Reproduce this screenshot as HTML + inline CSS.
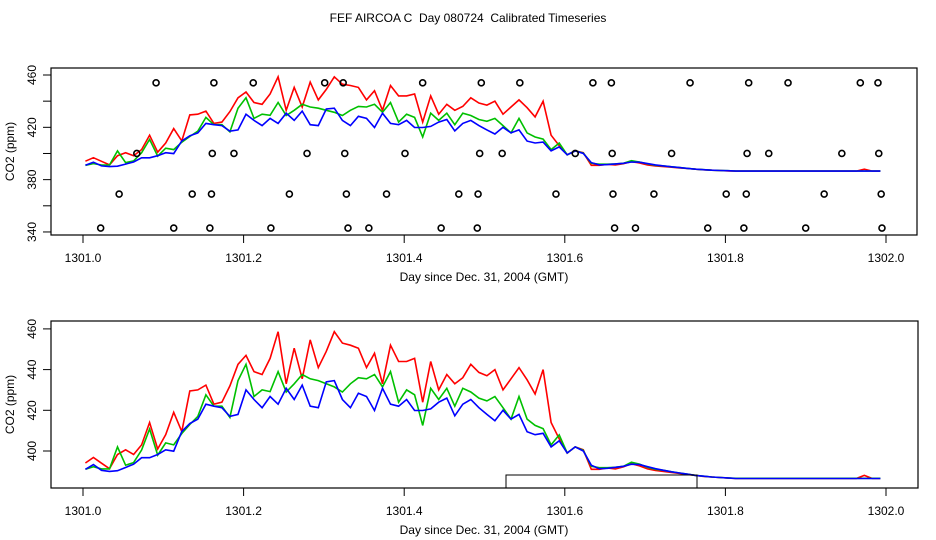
<!DOCTYPE html>
<html><head><meta charset="utf-8"><style>
html,body{margin:0;padding:0;background:#fff;}
svg{display:block;font-family:"Liberation Sans",Arial,sans-serif;}
</style></head><body>
<svg id="chart" width="936" height="540" viewBox="0 0 936 540">
<text x="468" y="22" text-anchor="middle" font-size="12" style="white-space:pre">FEF AIRCOA C  Day 080724  Calibrated Timeseries</text>
<g id="topPanel"></g>
<g id="botPanel"></g>
</svg>
<script>
const red = [394.1,396.8,394,391.3,398.3,400.6,398.3,403,414,401,408,419,409.6,429.5,430,432.4,423,424,432,442.6,447,439,437.6,445.5,458.6,433,450.5,435.5,454.6,441,449,458.6,453,452,450.5,441,448,433,452,444,444,445.5,424,444,430,437.6,433,436,442.6,438.6,437,440,430,435.5,441,435,428,440,414,406,399,402,400.6,391,391,391.7,391.2,392.2,393.8,392.7,391.2,390.4,390,389.5,389,388.5,388,387.5,387.2,387,386.7,386.5,386.5,386.5,386.5,386.5,386.5,386.5,386.5,386.5,386.5,386.5,386.5,386.5,386.5,386.5,386.5,388,386.5,386.5];
const green = [391,392.3,391.2,391.2,402,393,394.3,400.5,410.8,398,404,403,408.6,413,417,427.6,422,422,416.5,434.6,442.6,426.8,430,429.2,439,429,433,437.6,435.5,434.6,433,431.5,429,433,436,435.5,437.6,431.5,439,424,430,427.6,412.6,430.8,425.3,430.8,422,430.8,429,426,424.6,426.8,421.3,415.7,426.8,415.7,412.6,411,403,407.9,399,402,400.3,392.5,391.8,391.8,392,392.5,394.5,393.5,392,391,390.5,389.8,389.2,388.6,388,387.6,387.2,387,386.8,386.6,386.6,386.6,386.6,386.6,386.6,386.6,386.6,386.6,386.6,386.6,386.6,386.6,386.6,386.6,386.6,386.6,386.6,386.6];
const blue = [391,393.3,390.5,390,390.3,391.9,393.5,396.7,396.7,398.3,400.6,399.9,409.6,413.5,415.7,423,422,421.3,417,418,430,425.3,421.3,426.8,423,430.8,425.3,432.4,422,421.3,434,434.6,425.3,421.3,428.4,426.8,419.9,430.8,423,422,425.3,419.9,419.9,420.7,424,426,417.3,423,425.3,421.3,418,414.9,420,415.7,418,409.5,408,408.7,402,405,399,402,400,393,391.3,391.5,392,392.5,393.5,393.3,392.3,391.3,390.5,389.8,389.2,388.6,388,387.6,387.2,387,386.8,386.5,386.5,386.5,386.5,386.5,386.5,386.5,386.5,386.5,386.5,386.5,386.5,386.5,386.5,386.5,386.5,386.5,386.5,386.5];
const tStart = 1301.003, tStep = 0.01;
const flagDays454 = [1301.091,1301.163,1301.212,1301.301,1301.324,1301.423,1301.496,1301.544,1301.635,1301.658,1301.756,1301.829,1301.878,1301.968,1301.990];
const flagDays400 = [1301.067,1301.161,1301.188,1301.279,1301.326,1301.401,1301.494,1301.522,1301.613,1301.659,1301.733,1301.827,1301.854,1301.945,1301.991];
const flagDays369 = [1301.045,1301.136,1301.160,1301.257,1301.328,1301.378,1301.468,1301.492,1301.589,1301.660,1301.711,1301.801,1301.826,1301.923,1301.994];
const flagDays343 = [1301.022,1301.113,1301.158,1301.234,1301.330,1301.356,1301.446,1301.491,1301.662,1301.688,1301.778,1301.823,1301.900,1301.995];
const flagVals = [454,400,369,343];
const xTicks = [1301.0,1301.2,1301.4,1301.6,1301.8,1302.0];
const topYTicks = [340,360,380,400,420,440,460];
const topYLabels = [340,380,420,460];
const botYTicks = [400,420,440,460];

const NS='http://www.w3.org/2000/svg';
function mk(tag, attrs, parent){const e=document.createElementNS(NS,tag);for(const k in attrs)e.setAttribute(k,attrs[k]);parent.appendChild(e);return e;}
const xs = d => 83 + (d-1301)*803;
const yTop = v => 75 + (460-v)*1.308;
const yBot = v => 451 - (v-400)*2.035;

function panel(g, box, ys, yticks, ylabels){
  const r = mk('rect',{x:box[0],y:box[1],width:box[2]-box[0],height:box[3]-box[1],fill:'none',stroke:'#000','stroke-width':1.2},g);
  
  
  xTicks.forEach(t=>{
    const l=mk('line',{x1:xs(t),x2:xs(t),y1:box[3],y2:box[3]+8,stroke:'#000'},g);
    
    
    const tx=mk('text',{x:xs(t),y:box[3]+27,'text-anchor':'middle','font-size':12},g);
    
    
    tx.textContent=t.toFixed(1);
  });
  yticks.forEach(v=>{
    const l=mk('line',{x1:box[0]-8,x2:box[0],y1:ys(v),y2:ys(v),stroke:'#000'},g);
    
    
  });
  ylabels.forEach(v=>{
    const tx=mk('text',{x:0,y:0,'text-anchor':'middle','font-size':12,transform:`translate(36,${ys(v)}) rotate(-90)`},g);
    
    
    tx.textContent=v;
  });
  const xt=mk('text',{x:484,y:box[3]+46,'text-anchor':'middle','font-size':12},g);
  
  
  xt.textContent='Day since Dec. 31, 2004 (GMT)';
  const yt=mk('text',{x:0,y:0,'text-anchor':'middle','font-size':12,transform:`translate(14,${(box[1]+box[3])/2}) rotate(-90)`},g);
  
  
  yt.textContent='CO2 (ppm)';
  [[red,'#ff0000','red'],[green,'#00c000','green'],[blue,'#0000ff','blue']].forEach(([arr,c,n])=>{
    const pts=arr.map((v,i)=>xs(tStart+i*tStep).toFixed(1)+','+ys(v).toFixed(1)).join(' ');
    const p=mk('polyline',{points:pts,fill:'none',stroke:c,'stroke-width':1.6},g);
    
    
  });
}
const topG=document.getElementById('topPanel'), botG=document.getElementById('botPanel');
panel(topG,[51,68,917,235],yTop,topYTicks,topYLabels);
[flagDays454,flagDays400,flagDays369,flagDays343].forEach((arr,ri)=>{
  arr.forEach(d=>{
    const c=mk('circle',{cx:xs(d),cy:yTop(flagVals[ri]),r:3,fill:'none',stroke:'#000','stroke-width':1.6},topG);
    
    
  });
});
panel(botG,[51,321,918,488],yBot,botYTicks,botYTicks);
const br=mk('rect',{x:506,y:475,width:191,height:13,fill:'none',stroke:'#000','stroke-width':1},botG);


</script>
</body></html>
